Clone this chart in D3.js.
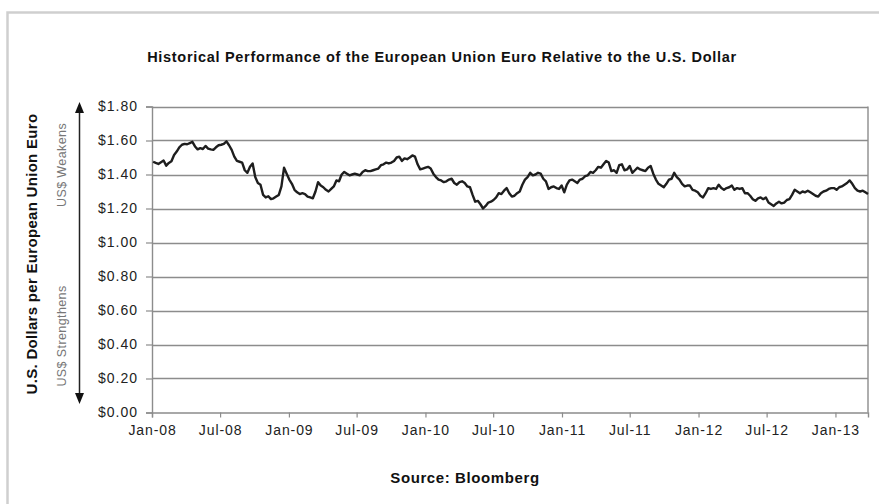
<!DOCTYPE html>
<html>
<head>
<meta charset="utf-8">
<script src="https://cdn.jsdelivr.net/npm/d3@7"></script>
<style>
  html, body { margin: 0; padding: 0; background: #fff; }
  svg { display: block; font-family: "Liberation Sans", Arial, sans-serif; }
</style>
</head>
<body>
<svg id="chart" width="879" height="504"></svg>
<script>
// ---- Data (weekly readings, Fridays from 4 Jan 2008) ----
const startDate = "2008-01-04";
const endDate = "2013-03-29";
const values2008 = [1.475,1.468,1.462,1.472, 1.482,1.452,1.468,1.478,1.515, 1.535,1.560,1.575,1.580, 1.578,1.585,1.592,1.565, 1.548,1.555,1.550,1.568,1.552, 1.548,1.545,1.560,1.572, 1.575,1.580,1.595,1.572, 1.545,1.505,1.480,1.475,1.470, 1.425,1.410,1.445,1.465, 1.385,1.350,1.340,1.280,1.265, 1.272,1.255,1.260,1.270, 1.280,1.330,1.440,1.405];
const values2009 = [1.370,1.345,1.310,1.295,1.285, 1.290,1.285,1.270,1.265, 1.260,1.300,1.355,1.335, 1.325,1.310,1.300,1.315, 1.330,1.365,1.360,1.400,1.415, 1.405,1.395,1.400,1.405, 1.400,1.395,1.415,1.425,1.420, 1.420,1.425,1.430,1.435, 1.455,1.460,1.470,1.465, 1.470,1.480,1.500,1.505,1.480, 1.495,1.490,1.500,1.512, 1.505,1.460,1.430,1.435];
const values2010 = [1.440,1.445,1.435,1.405,1.385, 1.370,1.365,1.355,1.360, 1.370,1.375,1.350,1.340, 1.355,1.360,1.350,1.330,1.325, 1.280,1.240,1.245,1.225, 1.200,1.215,1.235,1.240, 1.250,1.265,1.290,1.285,1.305, 1.320,1.290,1.270,1.275, 1.290,1.300,1.340,1.370, 1.385,1.410,1.395,1.400,1.410, 1.405,1.375,1.360,1.315, 1.325,1.330,1.320,1.315,1.335];
const values2011 = [1.295,1.340,1.365,1.370, 1.360,1.350,1.370,1.375, 1.390,1.395,1.415,1.410, 1.425,1.445,1.440,1.460,1.480, 1.470,1.420,1.425,1.410, 1.455,1.460,1.425,1.430, 1.450,1.410,1.425,1.440,1.430, 1.425,1.420,1.440,1.450, 1.405,1.370,1.345,1.335,1.325, 1.345,1.370,1.375,1.410, 1.385,1.370,1.345,1.330, 1.335,1.335,1.310,1.305,1.295];
const values2012 = [1.275,1.265,1.290,1.320, 1.315,1.320,1.315,1.340, 1.320,1.310,1.320,1.325,1.335, 1.310,1.320,1.315,1.320, 1.290,1.290,1.275,1.255, 1.245,1.260,1.265,1.255,1.265, 1.235,1.225,1.215,1.230, 1.240,1.230,1.235,1.250,1.255, 1.280,1.310,1.300,1.290, 1.300,1.295,1.305,1.295, 1.285,1.275,1.270,1.290,1.300, 1.305,1.315,1.320,1.320];
const values2013 = [1.310,1.325,1.330,1.340, 1.350,1.365,1.345,1.320, 1.305,1.300,1.305,1.295,1.285];

const yTicks = [0,0.2,0.4,0.6,0.8,1.0,1.2,1.4,1.6,1.8];
const xTickLabels = ["Jan-08","Jul-08","Jan-09","Jul-09","Jan-10","Jul-10","Jan-11","Jul-11","Jan-12","Jul-12","Jan-13"];

const titleText = "Historical Performance of the European Union Euro Relative to the U.S. Dollar";
const yTitle = "U.S. Dollars per European Union Euro";
const upNote = "US$ Weakens";
const downNote = "US$ Strengthens";
const sourceText = "Source: Bloomberg";

// ---- Build series ----
const parse = d3.utcParse("%Y-%m-%d");
const allValues = [].concat(values2008, values2009, values2010, values2011, values2012, values2013);
const t0 = parse(startDate);
const series = allValues.map((v, i) => ({ date: d3.utcDay.offset(t0, 7 * i), value: v }));

const svg = d3.select("#chart");

// outer frame
svg.append("path")
  .attr("d", "M7.5,520 L7.5,12.5 L890,12.5")
  .attr("fill", "none").attr("stroke", "#cfcfcf").attr("stroke-width", 2.5);

const L = 152, R = 868, T = 106.5, B = 412.5;

const x = d3.scaleUtc().domain([parse("2008-01-01"), parse(endDate)]).range([L, R]);
const y = d3.scaleLinear().domain([0, 1.8]).range([B, T]);

// gridlines
svg.append("g").selectAll("line").data(yTicks.filter(d => d > 0)).join("line")
  .attr("x1", L).attr("x2", R)
  .attr("y1", d => Math.round(y(d)) + 0.5).attr("y2", d => Math.round(y(d)) + 0.5)
  .attr("stroke", "#8c8c8c").attr("stroke-width", 1.4);

// right border
svg.append("line").attr("x1", R).attr("x2", R).attr("y1", T).attr("y2", B)
  .attr("stroke", "#8c8c8c").attr("stroke-width", 1.4);

// y axis
const yAxis = d3.axisLeft(y).tickValues(yTicks).tickSize(6).tickPadding(8)
  .tickFormat(d => "$" + d3.format(".2f")(d));
const gy = svg.append("g").attr("transform", `translate(${L},0)`).call(yAxis);
gy.select(".domain").attr("stroke", "#8c8c8c").attr("stroke-width", 1.4);
gy.selectAll(".tick line").attr("stroke", "#8c8c8c").attr("stroke-width", 1.2);
gy.selectAll(".tick text").attr("font-size", 14).attr("letter-spacing", 1).attr("fill", "#222")
  .attr("font-family", "Liberation Sans, Arial, sans-serif");

// x axis
const xTickDates = xTickLabels.map(s => d3.utcParse("%b-%y")(s));
const xAxis = d3.axisBottom(x).tickValues(xTickDates).tickSize(5).tickPadding(8)
  .tickFormat((d, i) => xTickLabels[i]);
const gx = svg.append("g").attr("transform", `translate(0,${B})`).call(xAxis);
gx.select(".domain").attr("stroke", "#8c8c8c").attr("stroke-width", 1.4);
gx.selectAll(".tick line").attr("stroke", "#8c8c8c").attr("stroke-width", 1.2);
gx.selectAll(".tick text").attr("font-size", 14).attr("letter-spacing", 0.9).attr("fill", "#222")
  .attr("font-family", "Liberation Sans, Arial, sans-serif");

// series line
const line = d3.line().x(d => x(d.date)).y(d => y(d.value));
svg.append("path").datum(series)
  .attr("d", line).attr("fill", "none")
  .attr("stroke", "#1e1e1e").attr("stroke-width", 2.4).attr("stroke-linejoin", "round");

// title
svg.append("text").attr("x", 442).attr("y", 62).attr("text-anchor", "middle")
  .attr("font-size", 14.5).attr("letter-spacing", 0.7).attr("font-weight", "bold").attr("fill", "#111")
  .text(titleText);

// y title
svg.append("text").attr("transform", "translate(37,254) rotate(-90)")
  .attr("text-anchor", "middle").attr("font-size", 15).attr("letter-spacing", 0.3)
  .attr("font-weight", "bold").attr("fill", "#111")
  .text(yTitle);

// arrow
const ax = 79.5;
svg.append("line").attr("x1", ax).attr("x2", ax).attr("y1", 108).attr("y2", 398)
  .attr("stroke", "#222").attr("stroke-width", 1.5);
svg.append("path").attr("d", `M${ax},102 L${ax - 4.5},113 L${ax + 4.5},113 Z`).attr("fill", "#111");
svg.append("path").attr("d", `M${ax},404 L${ax - 4.5},393 L${ax + 4.5},393 Z`).attr("fill", "#111");

svg.append("text").attr("transform", "translate(66,165) rotate(-90)")
  .attr("text-anchor", "middle").attr("font-size", 12.5).attr("letter-spacing", 0.4)
  .attr("fill", "#777").text(upNote);
svg.append("text").attr("transform", "translate(66,336) rotate(-90)")
  .attr("text-anchor", "middle").attr("font-size", 12.5).attr("letter-spacing", 0.4)
  .attr("fill", "#777").text(downNote);

// source
svg.append("text").attr("x", 465).attr("y", 483).attr("text-anchor", "middle")
  .attr("font-size", 15).attr("letter-spacing", 0.6).attr("font-weight", "bold").attr("fill", "#111")
  .text(sourceText);
</script>
</body>
</html>
